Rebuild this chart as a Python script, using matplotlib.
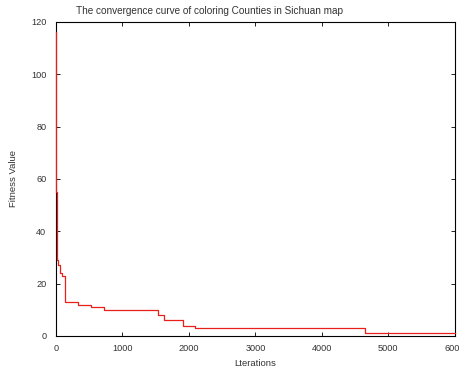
import matplotlib
matplotlib.use('Agg')
import matplotlib.pyplot as plt

plt.rcParams['font.family'] = ['Liberation Sans', 'DejaVu Sans']

# Best fitness value per iteration (step changes)
iterations = [0, 2, 4, 6, 8, 10, 14, 30, 60, 85, 135, 330, 520, 720, 1535, 1625, 1905, 2090, 4650, 6000]
fitness = [116, 95, 75, 55, 42, 33, 29, 27, 24, 23, 13, 12, 11, 10, 8, 6, 4, 3, 1, 1]

text_color = '#333333'

fig = plt.figure(figsize=(4.6, 3.73), dpi=100)
ax = fig.add_axes([0.1217, 0.0992, 0.867, 0.842])

ax.plot(iterations, fitness, color='#e8201a', linewidth=0.9,
        drawstyle='steps-post', zorder=3, clip_on=False)

ax.set_xlim(0, 6000)
ax.set_ylim(0, 120)
ax.set_xticks(range(0, 6001, 1000))
ax.set_yticks(range(0, 121, 20))
ax.tick_params(direction='in', top=True, right=True, labelsize=6.6, length=3,
               width=0.6, labelcolor=text_color)
ax.tick_params(axis='y', pad=7)
ax.tick_params(axis='x', pad=6)
for s in ax.spines.values():
    s.set_linewidth(0.8)

ax.set_xlabel('Lterations', fontsize=6.8, labelpad=4, color=text_color)
ax.set_ylabel('Fitness Value', fontsize=6.8, labelpad=9, color=text_color)
fig.text(210 / 460, 1 - 11 / 373, 'The convergence curve of coloring Counties in Sichuan map',
         fontsize=7.2, ha='center', va='center', color=text_color)

fig.savefig('out.png', dpi=100)
